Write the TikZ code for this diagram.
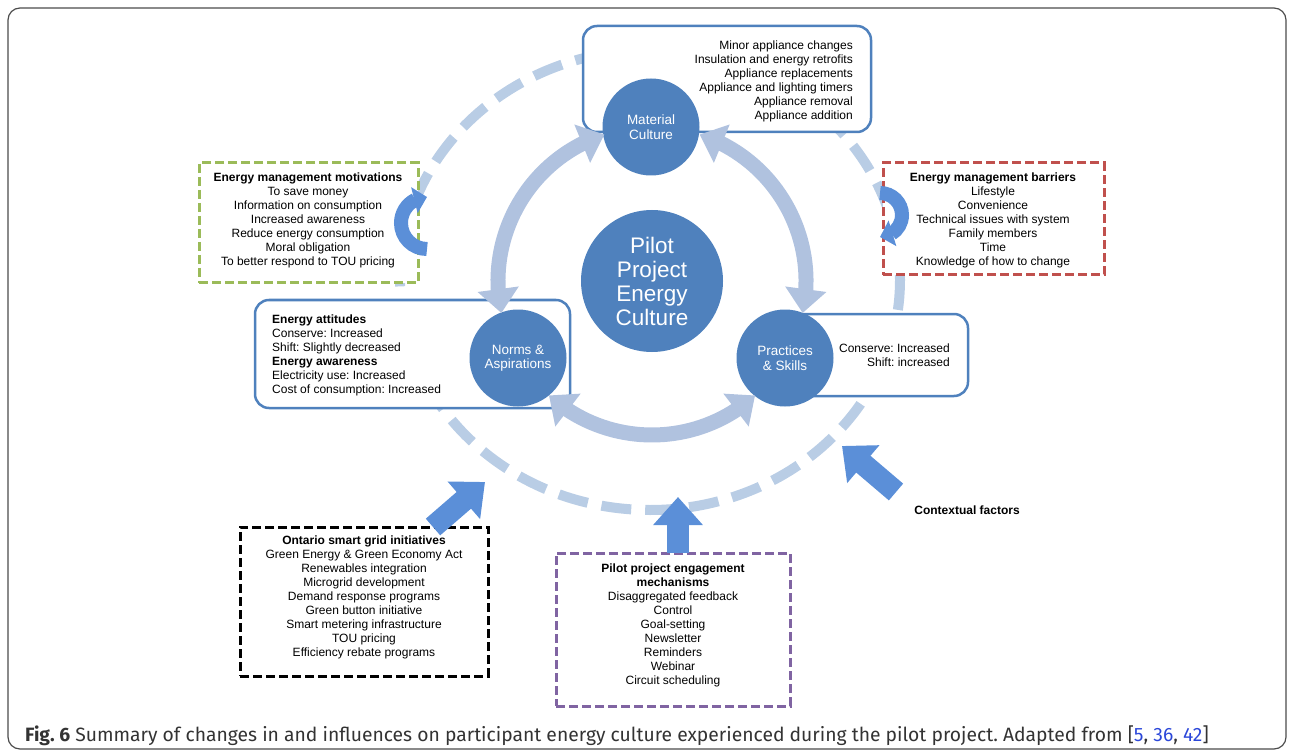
\documentclass[tikz,border=0pt]{standalone}
\usepackage{fontspec}
\setmainfont{Liberation Sans}
\newfontfamily\capfont{Fira Sans}
\usetikzlibrary{arrows.meta,bending,positioning}
\definecolor{circblue}{HTML}{4F81BD}
\definecolor{cyclink}{HTML}{B0C2DF}
\definecolor{ringblue}{HTML}{B9CDE5}
\definecolor{gloss}{HTML}{5B8FD8}
\definecolor{motgreen}{HTML}{9BBB59}
\definecolor{barred}{HTML}{C0504D}
\definecolor{engpurple}{HTML}{8064A2}
\definecolor{citeblue}{HTML}{2B47D9}
\frenchspacing

\begin{document}
\begin{tikzpicture}[x=1pt, y=-1pt,
    every node/.style={font=\fontsize{12}{14}\selectfont, inner sep=0pt},
    culture/.style={circle, fill=circblue, text=white, minimum size=97pt,
        align=center, font=\fontsize{13.5}{14.5}\selectfont},
    infobox/.style={rectangle, draw=circblue, line width=2.5pt, rounded corners=14pt, fill=white},
    dashbox/.style={rectangle, line width=3pt, dash pattern=on 9pt off 4pt, fill=white},
    cyclearrow/.style={cyclink, line width=15pt,
        {Triangle[width=40pt,length=24pt]}-{Triangle[width=40pt,length=24pt]}},
    blockarrow/.style={gloss, line width=22pt, -{Triangle[width=48pt,length=28pt]}},
    turnarrow/.style={gloss, line width=14pt, -{Triangle[width=26pt,length=13pt]}},
]
\useasboundingbox (0,0) rectangle (1290,751);

% Frame
\draw[black!70, line width=1.2pt, rounded corners=12pt] (8,8) rectangle (1286,749);

% Outer ring of influences
\coordinate (hub) at (652,281);
\draw[ringblue, line width=10pt, dash pattern=on 30pt off 14pt] (650,280) ellipse [x radius=250, y radius=230];

% Boxes around the three elements
\node[infobox, minimum width=288pt, minimum height=106pt] (matbox) at (727,79) {};
\node[infobox, minimum width=315pt, minimum height=108pt] (normbox) at (412.5,354) {};
\node[infobox, minimum width=208pt, minimum height=82pt] (pracbox) at (864,355) {};

\node[align=right, anchor=east] (mattext) at (853,81)
    {Minor appliance changes\\Insulation and energy retrofits\\Appliance replacements\\
     Appliance and lighting timers\\Appliance removal\\Appliance addition};
\node[align=left, anchor=west] (normtext) at (272,355)
    {\textbf{Energy attitudes}\\Conserve: Increased\\Shift: Slightly decreased\\
     \textbf{Energy awareness}\\Electricity use: Increased\\Cost of consumption: Increased};
\node[align=right, anchor=east] (practext) at (950,355)
    {Conserve: Increased\\Shift: increased};

% Motivations and barriers
\node[dashbox, draw=motgreen, minimum width=219pt, minimum height=120pt] (motbox) at (308.5,223) {};
\node[align=center] (mottext) at (308,220)
    {\textbf{Energy management motivations}\\To save money\\Information on consumption\\
     Increased awareness\\Reduce energy consumption\\Moral obligation\\To better respond to TOU pricing};
\node[dashbox, draw=barred, minimum width=221pt, minimum height=112pt] (barbox) at (993.5,219) {};
\node[align=center] (bartext) at (993,220)
    {\textbf{Energy management barriers}\\Lifestyle\\Convenience\\Technical issues with system\\
     Family members\\Time\\Knowledge of how to change};

% Energy culture elements
\node[culture] (material) at (651,127) {Material\\Culture};
\node[culture] (norms) at (518,358) {Norms \&\\Aspirations};
\node[culture] (practices) at (785,358) {Practices\\\& Skills};
\node[culture, minimum size=142pt, font=\fontsize{22.5}{24}\selectfont] (pilot) at (hub)
    {Pilot\\Project\\Energy\\Culture};

% Cycle
\draw[cyclearrow] ([shift={(252:154)}]hub) arc[start angle=252, end angle=168, radius=154];
\draw[cyclearrow] ([shift={(288:154)}]hub) arc[start angle=288, end angle=372, radius=154];
\draw[cyclearrow] ([shift={(48:154)}]hub) arc[start angle=48, end angle=132, radius=154];

% Turning arrows
\coordinate (motturn) at (427,249);
\draw[turnarrow] (motturn) arc[start angle=90, end angle=270, radius=26];
\coordinate (barturn) at (880,193);
\draw[turnarrow] (barturn) arc[start angle=270, end angle=450, radius=22];

% External influences
\node[dashbox, draw=black, minimum width=248pt, minimum height=149pt] (ontbox) at (364,601.5) {};
\node[align=center] (onttext) at (364,597)
    {\textbf{Ontario smart grid initiatives}\\Green Energy \& Green Economy Act\\Renewables integration\\
     Microgrid development\\Demand response programs\\Green button initiative\\
     Smart metering infrastructure\\TOU pricing\\Efficiency rebate programs};
\node[dashbox, draw=engpurple, minimum width=234pt, minimum height=153pt] (engbox) at (673,629.5) {};
\node[align=center] (engtext) at (673,625)
    {\textbf{Pilot project engagement}\\\textbf{mechanisms}\\Disaggregated feedback\\Control\\
     Goal-setting\\Newsletter\\Reminders\\Webinar\\Circuit scheduling};
\node[font=\fontsize{12}{14}\selectfont\bfseries] (context) at (967,510) {Contextual factors};

\coordinate (ontfrom) at (433,527);
\coordinate (onttip) at (485,482);
\draw[blockarrow] (ontfrom) -- (onttip);
\coordinate (engfrom) at (678,553);
\coordinate (engtip) at (678,497);
\draw[blockarrow] (engfrom) -- (engtip);
\coordinate (ctxfrom) at (896,492);
\coordinate (ctxtip) at (842,446);
\draw[blockarrow] (ctxfrom) -- (ctxtip);

% Caption
\node[anchor=west, font=\capfont\fontsize{19.3}{21}\selectfont, text=black!80] (caption) at (25,736)
    {\textbf{Fig. 6} Summary of changes in and influences on participant energy culture experienced
     during the pilot project. Adapted from [\textcolor{citeblue}{5}, \textcolor{citeblue}{36},
     \textcolor{citeblue}{42}]};

\end{tikzpicture}
\end{document}
